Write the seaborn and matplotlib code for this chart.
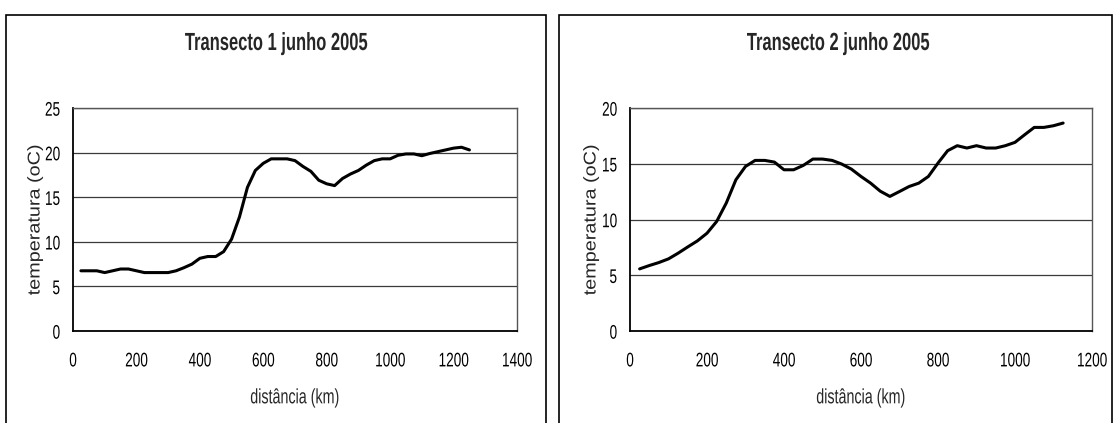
import matplotlib
matplotlib.use("Agg")
import matplotlib.pyplot as plt
from matplotlib.patches import Rectangle
from matplotlib.patheffects import AbstractPathEffect
from matplotlib.transforms import Affine2D
from matplotlib.textpath import TextPath
from matplotlib.font_manager import FontProperties
import seaborn as sns
import pandas as pd

# ---- data ----
dist1 = [25, 50, 75, 100, 125, 150, 175, 200, 225, 250, 275, 300, 325, 350, 375, 400,
         425, 450, 475, 500, 525, 550, 575, 600, 625, 650, 675, 700, 725, 750, 775, 800,
         825, 850, 875, 900, 925, 950, 975, 1000, 1025, 1050, 1075, 1100, 1125, 1150,
         1175, 1200, 1225, 1250]
temp1 = [6.75, 6.75, 6.75, 6.55, 6.75, 6.95, 6.95, 6.75, 6.55, 6.55, 6.55, 6.55, 6.75,
         7.1, 7.5, 8.15, 8.35, 8.35, 8.9, 10.3, 12.8, 16.1, 18.0, 18.8, 19.3, 19.3, 19.3,
         19.1, 18.45, 17.9, 16.9, 16.5, 16.3, 17.1, 17.6, 18.0, 18.6, 19.1, 19.3, 19.3,
         19.7, 19.85, 19.85, 19.65, 19.9, 20.1, 20.3, 20.5, 20.6, 20.3]

dist2 = [25, 50, 75, 100, 125, 150, 175, 200, 225, 250, 275, 300, 325, 350, 375, 400,
         425, 450, 475, 500, 525, 550, 575, 600, 625, 650, 675, 700, 725, 750, 775, 800,
         825, 850, 875, 900, 925, 950, 975, 1000, 1025, 1050, 1075, 1100, 1125]
temp2 = [5.57, 5.87, 6.14, 6.47, 6.98, 7.54, 8.08, 8.77, 9.82, 11.47, 13.56, 14.76, 15.3,
         15.3, 15.15, 14.46, 14.46, 14.85, 15.42, 15.42, 15.3, 14.97, 14.52, 13.86, 13.26,
         12.54, 12.07, 12.51, 12.96, 13.26, 13.86, 15.06, 16.17, 16.62, 16.41, 16.62,
         16.41, 16.41, 16.62, 16.92, 17.6, 18.26, 18.26, 18.41, 18.65]

titles = ["Transecto 1 junho 2005", "Transecto 2 junho 2005"]
xlabel = "distância (km)"
ylabel = "temperatura (oC)"
xticks1 = [0, 200, 400, 600, 800, 1000, 1200, 1400]
yticks1 = [0, 5, 10, 15, 20, 25]
xticks2 = [0, 200, 400, 600, 800, 1000, 1200]
yticks2 = [0, 5, 10, 15, 20]

sns.set_style("white")
FAM = ["Liberation Sans", "DejaVu Sans"]
plt.rcParams["font.family"] = FAM


class Stretch(AbstractPathEffect):
    """Scale glyph outlines (in text-local units) about a pivot point."""
    def __init__(self, sx=1.0, sy=1.0, px=0.0, py=0.0):
        super().__init__()
        self.sx, self.sy, self.px, self.py = sx, sy, px, py

    def draw_path(self, renderer, gc, tpath, affine, rgbFace=None):
        t = (Affine2D().translate(-self.px, -self.py).scale(self.sx, self.sy)
             .translate(self.px, self.py))
        renderer.draw_path(gc, tpath, t + affine, rgbFace)


SY = 1.45
CAPC = 36.0  # half cap height in text-path units (size 100)

W, H = 1115, 423
fig = plt.figure(figsize=(W / 100, H / 100), dpi=100)
fig.patch.set_facecolor("white")

# outer frames
for (x0, x1) in [(6, 546), (559, 1112)]:
    fig.patches.append(Rectangle((x0 / W, -0.05), (x1 - x0) / W, 1.05 - 15 / H,
                                 transform=fig.transFigure, fill=False,
                                 edgecolor="black", lw=1.2))

ylab_len = TextPath((0, 0), ylabel, size=100, prop=FontProperties(family=FAM)).get_extents().x1


def draw(ax_rect, x, y, xticks, yticks, title, title_cx, ylab_x):
    ax = fig.add_axes(ax_rect)
    df = pd.DataFrame({"d": x, "t": y})
    sns.lineplot(data=df, x="d", y="t", ax=ax, color="black", lw=2.2)
    ax.set_xlim(xticks[0], xticks[-1])
    ax.set_ylim(yticks[0], yticks[-1])
    ax.set_xticks(xticks)
    ax.set_yticks(yticks)
    ax.set_xticklabels([str(v) for v in xticks], fontsize=9.8)
    ax.set_yticklabels([str(v) for v in yticks], fontsize=9.8)
    ax.tick_params(axis="x", direction="out", length=4, width=1, pad=21.5, colors="black")
    ax.tick_params(axis="y", direction="out", length=5, width=1, pad=4.3, colors="black")
    for lab in ax.get_xticklabels():
        lab.set_va("baseline")
        lab.set_path_effects([Stretch(1.0, SY, 0, 0)])
    for lab in ax.get_yticklabels():
        lab.set_path_effects([Stretch(1.0, SY, 0, CAPC)])
    ax.yaxis.grid(True, color="#3a3a3a", lw=0.9)
    ax.xaxis.grid(False)
    ax.set_axisbelow(True)
    for s in ["left", "bottom"]:
        ax.spines[s].set_color("black")
        ax.spines[s].set_linewidth(1.3)
    for s in ["top", "right"]:
        ax.spines[s].set_color("#555555")
        ax.spines[s].set_linewidth(1.0)
    ax.set_xlabel(xlabel, fontsize=10.3)
    ax.set_ylabel(ylabel, fontsize=12.3)
    ax.xaxis.label.set_va("center")
    ax.yaxis.label.set_va("center")
    ax.xaxis.label.set_path_effects([Stretch(1.0, SY, 0, CAPC)])
    ax.yaxis.label.set_path_effects([Stretch(1.16, 1.0, ylab_len / 2, 0)])
    ax.xaxis.set_label_coords(0.5, -(397 - 331) / 223)
    ax.yaxis.set_label_coords(ylab_x, 0.5)
    fig.text(title_cx / W, 1 - 50 / H, title, ha="center", va="baseline",
             fontsize=11.9, fontweight="bold",
             path_effects=[Stretch(1.0, 1.5, 0, 0)])
    return ax


bot = 92 / H
hgt = 223 / H
draw([73 / W, bot, 444 / W, hgt], dist1, temp1, xticks1, yticks1, titles[0], 276,
     -(73 - 35) / 444)
draw([630 / W, bot, 462 / W, hgt], dist2, temp2, xticks2, yticks2, titles[1], 838,
     -(630 - 591) / 462)

fig.savefig("out.png", dpi=100, facecolor="white")
